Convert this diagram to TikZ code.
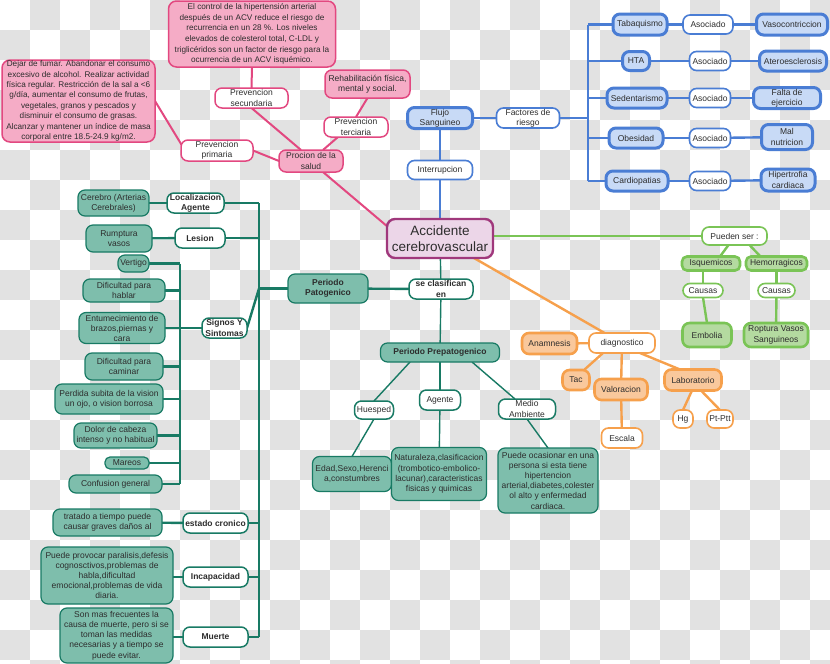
\documentclass[tikz,border=0pt]{standalone}
\usepackage{fontspec}
\setmainfont{Liberation Sans}
\usetikzlibrary{calc}
\pgfdeclarelayer{bg}
\pgfdeclarelayer{edges}
\pgfsetlayers{bg,edges,main}
\definecolor{chk}{RGB}{226,226,226}
\definecolor{pinkL}{RGB}{226,72,128}
\definecolor{pinkF}{RGB}{245,172,198}
\definecolor{blueL}{RGB}{74,125,212}
\definecolor{blueF}{RGB}{200,218,246}
\definecolor{tealL}{RGB}{24,122,100}
\definecolor{tealF}{RGB}{126,190,172}
\definecolor{orL}{RGB}{246,160,76}
\definecolor{orF}{RGB}{249,200,156}
\definecolor{grL}{RGB}{122,196,86}
\definecolor{grF}{RGB}{180,218,160}
\definecolor{acvF}{RGB}{236,214,232}
\definecolor{acvL}{RGB}{160,56,124}
\definecolor{txt}{RGB}{45,45,45}
\newcommand\fs{\fontsize{8.5}{10.2}\selectfont}
\newcommand\fsb{\fontsize{8.2}{10.4}\selectfont}
\tikzset{
  wh/.style 2 args={minimum width=#1pt, minimum height=#2pt},
  base/.style={rounded corners=7pt, align=center, font=\fs, text=txt, inner sep=0pt, outer sep=0pt},
  pinkbox/.style={base, draw=pinkL, fill=pinkF, line width=1.5pt},
  pinkw/.style={base, draw=pinkL, fill=white, line width=1.5pt},
  bluebox/.style={base, draw=blueL, fill=blueF, line width=3pt},
  bluew/.style={base, draw=blueL, fill=white, line width=1.6pt},
  tealbox/.style={base, draw=tealL, fill=tealF, line width=1.2pt},
  tealw/.style={base, draw=tealL, fill=white, line width=1.5pt},
  tealwb/.style={tealw, font=\fs\bfseries},
  orbox/.style={base, draw=orL, fill=orF, line width=2.6pt},
  orw/.style={base, draw=orL, fill=white, line width=1.6pt},
  grbox/.style={base, draw=grL, fill=grF, line width=2.6pt, rounded corners=5pt},
  grw/.style={base, draw=grL, fill=white, line width=1.6pt},
  pinkln/.style={draw=pinkL, line width=2pt},
  blueln/.style={draw=blueL, line width=2.4pt},
  tealln/.style={draw=tealL, line width=2.4pt},
  tealthin/.style={draw=tealL, line width=1.4pt},
  orln/.style={draw=orL, line width=2.4pt},
  grln/.style={draw=grL, line width=2.4pt},
}
\begin{document}
\begin{tikzpicture}[x=1pt,y=-1pt]
\useasboundingbox (0,0) rectangle (830,664);
\begin{pgfonlayer}{bg}
\fill[white] (0,0) rectangle (830,664);
\foreach \i in {0,...,27}{\foreach \j in {0,...,22}{%
  \pgfmathtruncatemacro\s{mod(\i+\j,2)}%
  \ifnum\s=1 \fill[chk] (\i*30,\j*30) rectangle ++(30,30);\fi}}
\end{pgfonlayer}
\begin{scope}
\clip (0,0) rectangle (830,664);

% ---------- central
\node[base, draw=acvL, fill=acvF, line width=2.4pt, rounded corners=8pt, wh={106}{39}, font=\fontsize{13.5}{15.5}\selectfont] (acv) at (440,238.5) {Accidente\\cerebrovascular};

% ---------- pink
\node[pinkbox, wh={167}{66}, rounded corners=8pt, font=\fontsize{8.2}{10.7}\selectfont] (ctrl) at (252,34) {El control de la hipertensión arterial\\después de un ACV reduce el riesgo de\\recurrencia en un 28 \%. Los niveles\\elevados de colesterol total, C-LDL y\\triglicéridos son un factor de riesgo para la\\ocurrencia de un ACV isquémico.};
\node[pinkbox, wh={153}{82}, rounded corners=8pt, font=\fsb] (dejar) at (78.5,101) {Dejar de fumar. Abandonar el consumo\\excesivo de alcohol. Realizar actividad\\física regular. Restricción de la sal a <6\\g/día, aumentar el consumo de frutas,\\vegetales, granos y pescados y\\disminuir el consumo de grasas.\\Alcanzar y mantener un índice de masa\\corporal entre 18.5-24.9 kg/m2.};
\node[pinkw, wh={73}{20}] (secun) at (251.5,98) {Prevencion\\secundaria};
\node[pinkbox, wh={85}{28}] (rehab) at (367.5,84) {Rehabilitación física,\\mental y social.};
\node[pinkw, wh={64}{20}] (terc) at (356,127) {Prevencion\\terciaria};
\node[pinkw, wh={72}{21}] (prim) at (217,150.5) {Prevencion\\primaria};
\node[pinkbox, wh={64}{22}] (procion) at (311,161) {Procion de la\\salud};

% ---------- blue
\node[bluebox, wh={65}{21}] (flujo) at (440,118) {Flujo\\Sanguineo};
\node[bluew, wh={63}{20}] (factores) at (528,118) {Factores de\\riesgo};
\node[bluew, wh={65}{19}] (interr) at (440,170) {Interrupcion};
\node[bluebox, wh={54}{21}] (tab) at (640,24.5) {Tabaquismo};
\node[bluew, wh={50}{19}] (aso1) at (708,24.5) {Asociado};
\node[bluebox, wh={71}{21}] (vaso) at (792,24.5) {Vasocontriccion};
\node[bluebox, wh={27}{19}] (hta) at (636,61) {HTA};
\node[bluew, wh={41}{19}] (aso2) at (710,61) {Asociado};
\node[bluebox, wh={67}{20}] (atero) at (793,61) {Ateroesclerosis};
\node[bluebox, wh={60}{20}] (sed) at (637,98) {Sedentarismo};
\node[bluew, wh={41}{19}] (aso3) at (710,98) {Asociado};
\node[bluebox, wh={67}{21}] (falta) at (787,98) {Falta de\\ejercicio};
\node[bluebox, wh={54}{20}] (obe) at (636,138) {Obesidad};
\node[bluew, wh={41}{19}] (aso4) at (710,138) {Asociado};
\node[bluebox, wh={51}{25}] (mal) at (787,137) {Mal\\nutricion};
\node[bluebox, wh={62}{20}] (card) at (637,181) {Cardiopatias};
\node[bluew, wh={41}{19}] (aso5) at (710,181) {Asociado};
\node[bluebox, wh={54}{22}] (hiper) at (788,180) {Hipertrofia\\cardiaca};
\coordinate (bbT) at (588,24.5);
\coordinate (bbB) at (588,181);

% ---------- teal center
\node[tealwb, wh={64}{20}] (clasif) at (441,289) {se clasifican\\en};
\node[tealbox, wh={80}{29}, font=\fs\bfseries] (pato) at (328,288.5) {Periodo\\Patogenico};
\node[tealbox, wh={119}{19}, font=\fs\bfseries] (prepato) at (440,352.5) {Periodo Prepatogenico};
\node[tealw, wh={39}{18}] (huesped) at (374,410) {Huesped};
\node[tealw, wh={41}{20}] (agente) at (440,400) {Agente};
\node[tealw, wh={57}{20}] (medio) at (527,409) {Medio\\Ambiente};
\node[tealbox, wh={79}{35}] (edad) at (352,474) {Edad,Sexo,Herenci\\a,constumbres};
\node[tealbox, wh={95}{53}] (natur) at (439,474) {Naturaleza,clasificacion\\(trombotico-embolico-\\lacunar),caracteristicas\\fisicas y quimicas};
\node[tealbox, wh={100}{65}] (puede) at (548,480.5) {Puede ocasionar en una\\persona si esta tiene\\hipertencion\\arterial,diabetes,colester\\ol alto y enfermedad\\cardiaca.};

% ---------- teal left
\node[tealbox, wh={71}{26}] (cerebro) at (113.5,203) {Cerebro (Arterias\\Cerebrales)};
\node[tealwb, wh={57}{20}] (local) at (195.5,203) {Localizacion\\Agente};
\node[tealbox, wh={66}{27}] (rump) at (119,238.5) {Rumptura\\vasos};
\node[tealwb, wh={50}{20}] (lesion) at (200,238) {Lesion};
\node[tealbox, wh={31}{17}] (vertigo) at (133.5,263.5) {Vertigo};
\node[tealbox, wh={82}{23}] (hablar) at (124,290.5) {Dificultad para\\hablar};
\node[tealbox, wh={86}{31}, font=\fontsize{8.5}{10}\selectfont] (entum) at (122,328) {Entumecimiento de\\brazos,piernas y\\cara};
\node[tealwb, wh={45}{20}] (signos) at (224.5,328) {Signos Y\\Sintomas};
\node[tealbox, wh={78}{27}] (caminar) at (124,366.5) {Dificultad para\\caminar};
\node[tealbox, wh={108}{30}] (perdida) at (109,399) {Perdida subita de la vision\\un ojo, o vision borrosa};
\node[tealbox, wh={83}{25}] (dolor) at (115.5,435.5) {Dolor de cabeza\\intenso y no habitual};
\node[tealbox, wh={44}{12}, rounded corners=5pt] (mareos) at (127,463) {Mareos};
\node[tealbox, wh={93}{18}] (confusion) at (115.5,484) {Confusion general};
\node[tealbox, wh={109}{27}] (tratado) at (107.5,522.5) {tratado a tiempo puede\\causar graves daños al};
\node[tealwb, wh={65}{20}] (cronico) at (215.5,523) {estado cronico};
\node[tealbox, wh={132}{57}] (provocar) at (107,575.5) {Puede provocar paralisis,defesis\\cognosctivos,problemas de\\habla,dificultad\\emocional,problemas de vida\\diaria.};
\node[tealwb, wh={65}{20}] (incap) at (215.5,577) {Incapacidad};
\node[tealbox, wh={113}{55}] (sonmas) at (116.5,635.5) {Son mas frecuentes la\\causa de muerte, pero si se\\toman las medidas\\necesarias y a tiempo se\\puede evitar.};
\node[tealwb, wh={65}{20}] (muerte) at (215.5,637) {Muerte};
\coordinate (tbT) at (259,203);
\coordinate (tbB) at (259,637);
\coordinate (sbT) at (180,263.5);
\coordinate (sbB) at (180,484);

% ---------- orange
\node[orw, wh={66}{20}] (diag) at (622,343) {diagnostico};
\node[orbox, wh={55}{21}] (anam) at (549.5,343.5) {Anamnesis};
\node[orbox, wh={27}{20}] (tac) at (576,380) {Tac};
\node[orbox, wh={53}{21}] (valor) at (621,389.5) {Valoracion};
\node[orbox, wh={57}{21}] (lab) at (693,380) {Laboratorio};
\node[orw, wh={41}{20}] (escala) at (622,438) {Escala};
\node[orw, wh={20}{18}] (hg) at (683,419) {Hg};
\node[orw, wh={26}{18}] (pt) at (720,419) {Pt-Ptt};

% ---------- green
\node[grw, wh={65}{18}] (pueden) at (734.5,236) {Pueden ser :};
\node[grbox, wh={58}{14}] (isq) at (711,263.5) {Isquemicos};
\node[grbox, wh={61}{14}] (hem) at (776.5,263.5) {Hemorragicos};
\node[grw, wh={40}{14}] (caus1) at (703,290.5) {Causas};
\node[grw, wh={37}{14}] (caus2) at (776.5,290.5) {Causas};
\node[grbox, wh={49}{24}, rounded corners=7pt] (embolia) at (707,335) {Embolia};
\node[grbox, wh={64}{24}, rounded corners=7pt] (roptura) at (776,335) {Roptura Vasos\\Sanguineos};
\end{scope}

% ================= edges
\begin{pgfonlayer}{edges}
% pink
\draw[pinkln] (ctrl.south) -- (secun.north);
\draw[pinkln] (secun.south) -- ($(procion.north)+(-10,0)$);
\draw[pinkln] (rehab.south) -- (terc.north);
\draw[pinkln] ($(terc.south)+(-18,0)$) -- ($(procion.north)+(12,0)$);
\draw[pinkln] (prim.east) -- (procion.west);
\draw[pinkln] (dejar.east) -- ($(prim.west)+(1,-5)$);
\draw[pinkln] ($(procion.south)+(12,0)$) -- ($(acv.north west)+(1,8)$);
% blue
\draw[blueln] (flujo) -- (factores);
\draw[blueln] (flujo) -- (interr);
\draw[blueln] (interr) -- (acv);
\draw[blueln] (factores.east) -- (factores.east -| bbT);
\draw[blueln] (bbT) -- (bbB);
\foreach \n/\m/\k in {tab/aso1/vaso, hta/aso2/atero, sed/aso3/falta, obe/aso4/mal, card/aso5/hiper}{
  \draw[blueln] (\n.west) -- (\n.west -| bbT);
  \draw[blueln] (\n) -- (\m);
  \draw[blueln] (\m) -- (\k);
}
% teal center
\draw[tealthin] (acv) -- (clasif);
\draw[tealthin] (clasif) -- (prepato);
\draw[tealln] (pato) -- (clasif);
\draw[tealthin] ($(prepato.south)+(-30,0)$) -- (huesped.north);
\draw[tealthin] (prepato) -- (agente);
\draw[tealthin] ($(prepato.south)+(32,0)$) -- ($(medio.north)+(-12,0)$);
\draw[tealthin] (huesped.south) -- (edad.north);
\draw[tealthin] (agente) -- (natur);
\draw[tealthin] (medio.south) -- (puede.north);
% teal left
\draw[tealln] (tbT) -- (tbB);
\draw[tealln] (sbT) -- (sbB);
\foreach \n in {local, lesion, cronico, incap, muerte}{\draw[tealln] (\n.east) -- (\n.east -| tbT);}
\draw[tealln] (pato.west) -- (pato.west -| tbT);
\draw[tealln] (signos.east) -- (pato.west -| tbT);
\foreach \n in {vertigo, hablar, entum, caminar, perdida, dolor, mareos, confusion}{\draw[tealln] (\n.east) -- (\n.east -| sbT);}
\draw[tealln] (signos.west) -- (signos.west -| sbT);
\draw[tealln] (cerebro) -- (local);
\draw[tealln] (rump) -- (lesion);
\draw[tealln] (tratado) -- (cronico);
\draw[tealln] (provocar.east |- incap.west) -- (incap.west);
\draw[tealln] (sonmas.east |- muerte.west) -- (muerte.west);
% orange
\draw[orln] (acv) -- (diag);
\draw[orln] (diag) -- (anam);
\draw[orln] ($(diag.south)+(-19,0)$) -- ($(tac.north)+(8,0)$);
\draw[orln] (diag) -- (valor);
\draw[orln] ($(diag.south)+(18,0)$) -- ($(lab.north)+(-13,0)$);
\draw[orln] (valor) -- (escala);
\draw[orln] ($(lab.south)+(-1,0)$) -- (hg.north);
\draw[orln] ($(lab.south)+(8,0)$) -- (pt.north);
% green
\draw[grln] (acv.east |- pueden.west) -- (pueden.west);
\draw[grln] ($(pueden.south)+(-6,0)$) -- ($(isq.north)+(9,0)$);
\draw[grln] ($(pueden.south)+(15,0)$) -- ($(hem.north)+(-16,0)$);
\draw[grln] ($(isq.south)+(-8,0)$) -- (caus1.north);
\draw[grln] (caus1.south) -- (embolia.north);
\draw[grln] (hem) -- (caus2);
\draw[grln] (caus2) -- (roptura);
\end{pgfonlayer}
\end{tikzpicture}
\end{document}
